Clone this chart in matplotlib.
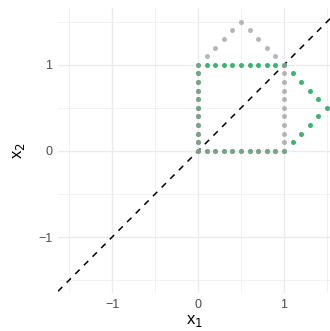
import matplotlib
matplotlib.use("Agg")
import matplotlib.pyplot as plt

plt.rcParams['font.family'] = ['Liberation Sans', 'DejaVu Sans']

# house outline, dots every 0.1 along the edges
house_x = [0, .1, .2, .3, .4, .5, .6, .7, .8, .9, 1,
           1, 1, 1, 1, 1, 1, 1, 1, 1, 1,
           .9, .8, .7, .6, .5, .4, .3, .2, .1, 0,
           0, 0, 0, 0, 0, 0, 0, 0, 0]
house_y = [0, 0, 0, 0, 0, 0, 0, 0, 0, 0, 0,
           .1, .2, .3, .4, .5, .6, .7, .8, .9, 1,
           1.1, 1.2, 1.3, 1.4, 1.5, 1.4, 1.3, 1.2, 1.1, 1,
           .9, .8, .7, .6, .5, .4, .3, .2, .1]
# reflection across x1 = x2
refl_x = house_y
refl_y = house_x

ticks = [-1, 0, 1]
tick_labels = ['\u22121', '0', '1']
minor = [-1.5, -0.5, 0.5, 1.5]

fig = plt.figure(figsize=(3.30, 3.31), dpi=100)
ax = fig.add_axes([58 / 330, 38 / 331, 272 / 330, 285 / 331])
ax.set_xlim(-1.63, 1.535)
ax.set_ylim(-1.65, 1.66)

for v in minor:
    ax.axvline(v, color='#ebebeb', lw=0.5, zorder=0)
    ax.axhline(v, color='#ebebeb', lw=0.5, zorder=0)
for v in ticks:
    ax.axvline(v, color='#ebebeb', lw=1.0, zorder=0)
    ax.axhline(v, color='#ebebeb', lw=1.0, zorder=0)

ax.axline((0, 0), (1, 1), color='black', lw=1.1, ls=(0, (4, 4)), zorder=1)

ax.scatter(refl_x, refl_y, s=13, color='#3cb371', lw=0, zorder=2)
ax.scatter(house_x, house_y, s=13, color='#999999', alpha=0.7, lw=0, zorder=3)

ax.set_xticks(ticks)
ax.set_xticklabels(tick_labels)
ax.set_yticks(ticks)
ax.set_yticklabels(tick_labels)
ax.tick_params(length=0, labelsize=9, colors='#4d4d4d', pad=4)
for s in ax.spines.values():
    s.set_visible(False)

ax.set_xlabel('x$_1$', fontsize=12, labelpad=2)
ax.set_ylabel('x$_2$', fontsize=12, labelpad=8)

fig.savefig('out.png', dpi=100)
